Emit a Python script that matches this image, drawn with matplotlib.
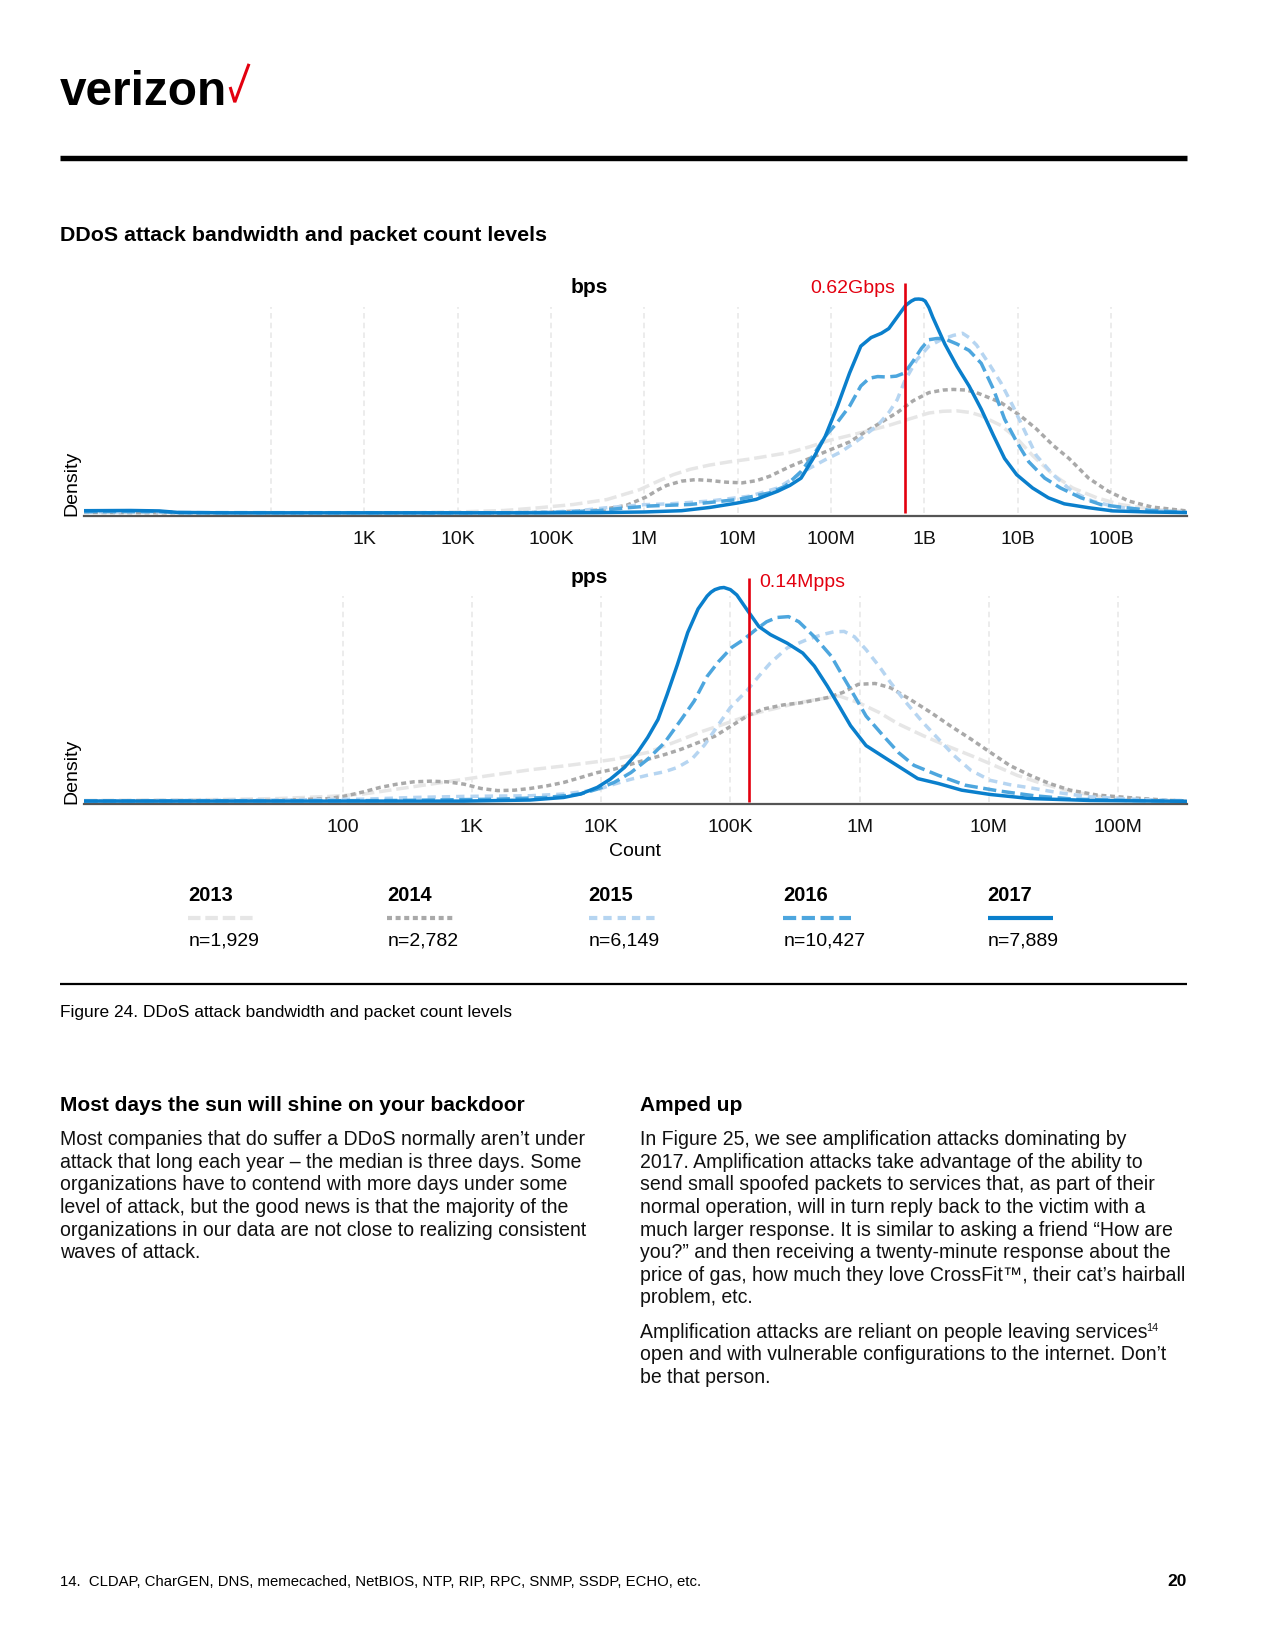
import matplotlib
matplotlib.use('Agg')
import matplotlib.pyplot as plt
from matplotlib.lines import Line2D
from matplotlib.ticker import NullLocator
import numpy as np

plt.rcParams['font.family'] = ['Liberation Sans', 'DejaVu Sans']
plt.rcParams['lines.scale_dashes'] = False

# ---------------- data ----------------
years = ['2013', '2014', '2015', '2016', '2017']
counts = ['n=1,929', 'n=2,782', 'n=6,149', 'n=10,427', 'n=7,889']

# bps densities: x = log10(bits per second)
bps_2013_x = [0.0, 1.0, 3.5, 4.0, 4.5, 4.88, 5.24, 5.6, 5.95, 6.15, 6.31, 6.49, 6.7, 6.91, 7.13, 7.34, 7.56, 7.77,
              7.98, 8.2, 8.41, 8.62, 8.84, 9.05, 9.2, 9.35, 9.5, 9.61, 9.82, 9.99, 10.16, 10.38, 10.59, 10.85,
              11.1, 11.44, 11.81]
bps_2013_y = [0.004, 0.002, 0.003, 0.006, 0.013, 0.026, 0.041, 0.064, 0.11, 0.15, 0.18, 0.205, 0.225, 0.24, 0.253,
              0.268, 0.284, 0.31, 0.34, 0.363, 0.386, 0.41, 0.44, 0.468, 0.476, 0.478, 0.47, 0.455, 0.41, 0.35,
              0.27, 0.18, 0.118, 0.072, 0.041, 0.018, 0.008]
bps_2014_x = [0.0, 1.0, 4.5, 5.0, 5.52, 5.81, 6.02, 6.15, 6.24, 6.4, 6.55, 6.7, 6.88, 7.05, 7.2, 7.34, 7.56, 7.77,
              7.98, 8.2, 8.37, 8.54, 8.71, 8.88, 9.05, 9.2, 9.31, 9.45, 9.56, 9.82, 10.03, 10.2, 10.38, 10.55,
              10.76, 10.97, 11.19, 11.44, 11.81]
bps_2014_y = [0.004, 0.002, 0.002, 0.005, 0.015, 0.037, 0.076, 0.11, 0.13, 0.15, 0.157, 0.153, 0.145, 0.142, 0.152,
              0.172, 0.218, 0.256, 0.294, 0.333, 0.38, 0.425, 0.47, 0.525, 0.563, 0.575, 0.578, 0.575, 0.563,
              0.517, 0.455, 0.394, 0.317, 0.256, 0.164, 0.103, 0.057, 0.029, 0.011]
bps_2015_x = [0.0, 0.8, 1.0, 4.5, 5.0, 5.3, 5.6, 6.0, 6.27, 6.7, 7.13, 7.43, 7.6, 7.77, 7.94, 8.11, 8.32, 8.5, 8.62,
              8.71, 8.79, 8.92, 9.05, 9.18, 9.31, 9.41, 9.48, 9.56, 9.69, 9.82, 9.95, 10.08, 10.2, 10.38, 10.59,
              10.8, 11.06, 11.4, 11.81]
bps_2015_y = [0.006, 0.006, 0.002, 0.002, 0.006, 0.012, 0.026, 0.04, 0.044, 0.057, 0.08, 0.118, 0.164, 0.21, 0.25,
              0.287, 0.35, 0.41, 0.47, 0.53, 0.617, 0.716, 0.78, 0.81, 0.83, 0.84, 0.82, 0.785, 0.70, 0.61, 0.50,
              0.38, 0.27, 0.18, 0.10, 0.057, 0.029, 0.014, 0.005]
bps_2016_x = [0.0, 0.8, 1.0, 4.5, 5.0, 5.5, 5.8, 6.06, 6.49, 7.0, 7.34, 7.51, 7.68, 7.81, 7.94, 8.07, 8.2, 8.32,
              8.41, 8.5, 8.6, 8.7, 8.79, 8.88, 8.97, 9.05, 9.14, 9.22, 9.35, 9.48, 9.61, 9.74, 9.86, 9.99, 10.12,
              10.29, 10.46, 10.68, 10.89, 11.1, 11.4, 11.81]
bps_2016_y = [0.008, 0.008, 0.003, 0.002, 0.004, 0.012, 0.025, 0.034, 0.041, 0.064, 0.095, 0.126, 0.195, 0.27,
              0.36, 0.425, 0.50, 0.594, 0.63, 0.638, 0.636, 0.64, 0.655, 0.71, 0.77, 0.81, 0.816, 0.814, 0.79,
              0.76, 0.70, 0.58, 0.44, 0.333, 0.24, 0.164, 0.118, 0.072, 0.041, 0.029, 0.014, 0.004]
bps_2017_x = [0.0, 0.5, 0.8, 1.0, 1.5, 3.0, 5.0, 5.5, 6.0, 6.4, 6.7, 7.0, 7.2, 7.43, 7.56, 7.68, 7.81, 7.94, 8.07,
              8.2, 8.32, 8.43, 8.54, 8.62, 8.71, 8.8, 8.86, 8.9, 8.94, 8.98, 9.01, 9.05, 9.09, 9.22, 9.35, 9.48,
              9.61, 9.74, 9.86, 9.99, 10.16, 10.33, 10.5, 10.76, 11.02, 11.4, 11.81]
bps_2017_y = [0.012, 0.013, 0.011, 0.004, 0.002, 0.002, 0.002, 0.003, 0.006, 0.012, 0.027, 0.048, 0.065, 0.103,
              0.13, 0.164, 0.256, 0.36, 0.50, 0.655, 0.78, 0.82, 0.84, 0.862, 0.916, 0.97, 0.99, 0.999, 1.0, 0.998,
              0.99, 0.96, 0.916, 0.79, 0.686, 0.594, 0.486, 0.364, 0.256, 0.18, 0.118, 0.072, 0.044, 0.026,
              0.011, 0.006, 0.003]

# pps densities: x = log10(packets per second)
pps_2013_x = [0.0, 1.0, 1.5, 1.9, 2.16, 2.42, 2.68, 2.94, 3.2, 3.45, 3.71, 3.97, 4.1, 4.36, 4.62, 4.79, 4.94, 5.1,
              5.22, 5.38, 5.53, 5.68, 5.84, 5.99, 6.15, 6.3, 6.49, 6.67, 6.86, 7.04, 7.22, 7.41, 7.63, 7.87,
              8.18, 8.53]
pps_2013_y = [0.006, 0.01, 0.015, 0.025, 0.036, 0.059, 0.082, 0.105, 0.128, 0.149, 0.167, 0.187, 0.198, 0.23,
              0.29, 0.33, 0.36, 0.394, 0.417, 0.44, 0.463, 0.478, 0.494, 0.463, 0.417, 0.363, 0.309, 0.262,
              0.216, 0.17, 0.123, 0.085, 0.049, 0.023, 0.009, 0.004]
pps_2014_x = [0.0, 1.5, 1.9, 2.03, 2.16, 2.29, 2.42, 2.55, 2.68, 2.81, 2.94, 3.07, 3.2, 3.33, 3.45, 3.58, 3.71,
              3.84, 3.97, 4.1, 4.23, 4.36, 4.49, 4.62, 4.75, 4.88, 5.01, 5.13, 5.25, 5.41, 5.56, 5.75, 5.87, 5.99,
              6.12, 6.24, 6.39, 6.55, 6.7, 6.86, 7.01, 7.16, 7.32, 7.47, 7.63, 7.84, 8.09, 8.4, 8.53]
pps_2014_y = [0.003, 0.006, 0.015, 0.028, 0.046, 0.067, 0.082, 0.093, 0.096, 0.093, 0.082, 0.062, 0.052, 0.054,
              0.062, 0.074, 0.09, 0.113, 0.136, 0.152, 0.175, 0.198, 0.22, 0.245, 0.276, 0.306, 0.355, 0.40,
              0.432, 0.452, 0.463, 0.486, 0.51, 0.548, 0.552, 0.532, 0.478, 0.417, 0.355, 0.293, 0.231, 0.17,
              0.123, 0.085, 0.054, 0.031, 0.019, 0.006, 0.004]
pps_2015_x = [0.0, 1.5, 2.16, 2.55, 2.94, 3.45, 3.71, 3.97, 4.1, 4.23, 4.36, 4.49, 4.59, 4.7, 4.8, 4.9, 5.0, 5.13,
              5.22, 5.31, 5.44, 5.59, 5.71, 5.8, 5.88, 5.96, 6.05, 6.15, 6.24, 6.36, 6.49, 6.61, 6.73, 6.86, 7.01,
              7.16, 7.35, 7.53, 7.78, 8.09, 8.53]
pps_2015_y = [0.004, 0.008, 0.012, 0.02, 0.025, 0.028, 0.036, 0.056, 0.082, 0.105, 0.124, 0.14, 0.16, 0.198,
              0.265, 0.353, 0.44, 0.52, 0.586, 0.648, 0.718, 0.756, 0.78, 0.793, 0.795, 0.77, 0.71, 0.633, 0.556,
              0.463, 0.37, 0.293, 0.216, 0.147, 0.10, 0.08, 0.062, 0.043, 0.023, 0.012, 0.005]
pps_2016_x = [0.0, 2.0, 2.42, 3.2, 3.58, 3.84, 3.97, 4.1, 4.23, 4.36, 4.49, 4.62, 4.72, 4.82, 4.91, 5.01, 5.1,
              5.19, 5.28, 5.36, 5.45, 5.53, 5.65, 5.78, 5.87, 5.96, 6.05, 6.18, 6.3, 6.42, 6.61, 6.82, 7.07, 7.35,
              7.66, 8.09, 8.53]
pps_2016_y = [0.004, 0.005, 0.006, 0.012, 0.02, 0.036, 0.059, 0.09, 0.136, 0.198, 0.275, 0.384, 0.47, 0.585,
              0.655, 0.72, 0.756, 0.80, 0.84, 0.86, 0.864, 0.84, 0.77, 0.68, 0.586, 0.494, 0.40, 0.31, 0.23, 0.17,
              0.123, 0.077, 0.051, 0.028, 0.012, 0.006, 0.003]
pps_2017_x = [0.0, 2.0, 2.94, 3.45, 3.71, 3.84, 3.97, 4.07, 4.18, 4.28, 4.36, 4.44, 4.51, 4.59, 4.67, 4.75, 4.82,
              4.85, 4.88, 4.92, 4.95, 5.0, 5.05, 5.13, 5.22, 5.31, 5.44, 5.56, 5.65, 5.75, 5.84, 5.93, 6.05, 6.21,
              6.33, 6.45, 6.61, 6.79, 7.01, 7.32, 7.78, 8.53]
pps_2017_y = [0.003, 0.003, 0.003, 0.008, 0.02, 0.036, 0.067, 0.105, 0.16, 0.229, 0.30, 0.384, 0.50, 0.64, 0.79,
              0.90, 0.96, 0.978, 0.99, 0.998, 1.0, 0.99, 0.965, 0.895, 0.818, 0.78, 0.74, 0.694, 0.633, 0.54,
              0.448, 0.355, 0.262, 0.20, 0.154, 0.108, 0.085, 0.054, 0.034, 0.015, 0.006, 0.002]

bps_median = 0.62e9
pps_median = 0.14e6
bps_median_label = '0.62Gbps'
pps_median_label = '0.14Mpps'

bps_ticks = [1e2, 1e3, 1e4, 1e5, 1e6, 1e7, 1e8, 1e9, 1e10, 1e11]
bps_ticklabels = ['', '1K', '10K', '100K', '1M', '10M', '100M', '1B', '10B', '100B']
pps_ticks = [1e2, 1e3, 1e4, 1e5, 1e6, 1e7, 1e8]
pps_ticklabels = ['100', '1K', '10K', '100K', '1M', '10M', '100M']

bps_series = [(bps_2013_x, bps_2013_y), (bps_2014_x, bps_2014_y), (bps_2015_x, bps_2015_y),
              (bps_2016_x, bps_2016_y), (bps_2017_x, bps_2017_y)]
pps_series = [(pps_2013_x, pps_2013_y), (pps_2014_x, pps_2014_y), (pps_2015_x, pps_2015_y),
              (pps_2016_x, pps_2016_y), (pps_2017_x, pps_2017_y)]

# ---------------- style ----------------
colors = ['#e6e6e6', '#a9a9a9', '#b6d5f1', '#4da6de', '#0a7fcc']
dash_styles = [(0, (9, 3.5)), (0, (3.6, 2.6)), (0, (6, 4.3)), (0, (9.5, 4)), '-']
RED = '#e3000f'

W, H = 1275, 1650
S = 1275 / 1211.0   # layout coordinates below are given on a 1211-wide page grid
fig = plt.figure(figsize=(W / 100, H / 100), dpi=100)
renderer = fig.canvas.get_renderer()


def fx(x):
    return x * S / W


def fy(y):
    return 1 - y * S / H


def fit_size(s, target, base=12, **kw):
    t = fig.text(0, 0, s, size=base, **kw)
    w = t.get_window_extent(renderer).width
    t.remove()
    return base * target * S / w


def make_axes(zero_px, spine_px, top_px, unit_px, xmax_log):
    ax = fig.add_axes([fx(80), fy(spine_px), fx(1127) - fx(80), fy(top_px) - fy(spine_px)])
    ax.patch.set_alpha(0)
    ax.set_xscale('log')
    ax.set_xlim(1, 10 ** xmax_log)
    ax.set_ylim(-(spine_px - zero_px) / unit_px, (zero_px - top_px) / unit_px)
    for s in ['top', 'right', 'left']:
        ax.spines[s].set_visible(False)
    ax.spines['bottom'].set_color('#555555')
    ax.spines['bottom'].set_linewidth(1.6)
    ax.spines['bottom'].set_zorder(1.5)
    ax.set_yticks([])
    ax.xaxis.set_minor_locator(NullLocator())
    ax.tick_params(axis='x', length=0, pad=11, labelsize=14, colors='#111111')
    return ax


def draw_panel(ax, series, ticks, ticklabels, grid_top, median, red_top, label, label_dx, ha):
    ax.vlines(ticks, 0, grid_top, colors='#e9e9e9', linestyles=(0, (4, 3)), linewidth=1.2, zorder=1)
    ax.set_xticks(ticks)
    ax.set_xticklabels(ticklabels)
    for i, (xs, ys) in enumerate(series):
        ax.plot(np.power(10.0, xs), ys, color=colors[i], linestyle=dash_styles[i], linewidth=2.5,
                zorder=2 + i, solid_joinstyle='round', solid_capstyle='round')
    ax.vlines([median], 0, red_top, colors=RED, linewidth=1.9, zorder=8)
    ax.annotate(label, xy=(median, red_top), xytext=(label_dx, -3.5), textcoords='offset points',
                ha=ha, va='center', color=RED, size=14, zorder=9)


# top panel (bps)
U1 = 487.5 - 284.0
ax1 = make_axes(zero_px=487.5, spine_px=489.8, top_px=262, unit_px=U1, xmax_log=11.81)
draw_panel(ax1, bps_series, bps_ticks, bps_ticklabels, (487.5 - 292) / U1, bps_median,
           (487.5 - 269) / U1, bps_median_label, -7.0, 'right')

# bottom panel (pps)
U2 = 761.5 - 558.0
ax2 = make_axes(zero_px=761.5, spine_px=763.8, top_px=540, unit_px=U2, xmax_log=8.53)
draw_panel(ax2, pps_series, pps_ticks, pps_ticklabels, (761.5 - 566) / U2, pps_median,
           (761.5 - 549) / U2, pps_median_label, 7.0, 'left')

# panel titles and axis labels
fig.text(fx(560), fy(273.5), 'bps', ha='center', va='center', weight='bold', size=15)
fig.text(fx(560), fy(548.5), 'pps', ha='center', va='center', weight='bold', size=15)
fig.text(fx(68), fy(490), 'Density', rotation=90, ha='center', va='bottom', size=14)
fig.text(fx(68), fy(764), 'Density', rotation=90, ha='center', va='bottom', size=14)
fig.text(fx(603), fy(809), 'Count', ha='center', va='center', size=14)

# legend
leg_x = [179, 368, 559, 744, 938]
leg_len = [62, 63, 64, 64, 62]
for i in range(5):
    fig.text(fx(leg_x[i]), fy(851), years[i], ha='left', va='center', weight='bold', size=14.5)
    fig.add_artist(Line2D([fx(leg_x[i]), fx(leg_x[i] + leg_len[i])], [fy(872), fy(872)],
                          transform=fig.transFigure, color=colors[i], linestyle=dash_styles[i],
                          linewidth=3.0, solid_capstyle='butt', dash_capstyle='butt'))
    fig.text(fx(leg_x[i]), fy(894), counts[i], ha='left', va='center', size=14)

# ---------------- page furniture ----------------
logo_family = ['Liberation Sans Narrow', 'Liberation Sans']
logo_size = fit_size('verizon', 158, family=logo_family, weight='bold')
fig.text(fx(57), fy(99.5), 'verizon', ha='left', va='baseline', size=logo_size,
         family=logo_family, weight='bold', color='black')
fig.add_artist(Line2D([fx(219), fx(223), fx(236)], [fy(84), fy(97), fy(62)], transform=fig.transFigure,
                      color=RED, linewidth=2.2, solid_joinstyle='miter'))

fig.add_artist(Line2D([fx(57), fx(1127)], [fy(150), fy(150)], transform=fig.transFigure,
                      color='black', linewidth=3.9, solid_capstyle='butt'))
fig.add_artist(Line2D([fx(57), fx(1127)], [fy(935), fy(935)], transform=fig.transFigure,
                      color='black', linewidth=1.6, solid_capstyle='butt'))

title = 'DDoS attack bandwidth and packet count levels'
ts = fit_size(title, 459, weight='bold')
fig.text(fx(57), fy(229), title, ha='left', va='baseline', size=ts, weight='bold')

caption = 'Figure 24. DDoS attack bandwidth and packet count levels'
cs = fit_size(caption, 430)
fig.text(fx(57), fy(965.5), caption, ha='left', va='baseline', size=cs)

h1 = 'Most days the sun will shine on your backdoor'
hs = fit_size(h1, 439, weight='bold')
fig.text(fx(57), fy(1055), h1, ha='left', va='baseline', size=hs, weight='bold')
fig.text(fx(608), fy(1055), 'Amped up', ha='left', va='baseline', size=hs, weight='bold')

left_lines = [
    'Most companies that do suffer a DDoS normally aren\u2019t under',
    'attack that long each year \u2013 the median is three days. Some',
    'organizations have to contend with more days under some',
    'level of attack, but the good news is that the majority of the',
    'organizations in our data are not close to realizing consistent',
    'waves of attack.',
]
right_lines = [
    'In Figure 25, we see amplification attacks dominating by',
    '2017. Amplification attacks take advantage of the ability to',
    'send small spoofed packets to services that, as part of their',
    'normal operation, will in turn reply back to the victim with a',
    'much larger response. It is similar to asking a friend \u201cHow are',
    'you?\u201d and then receiving a twenty-minute response about the',
    'price of gas, how much they love CrossFit\u2122, their cat\u2019s hairball',
    'problem, etc.',
]
right_lines2 = [
    'Amplification attacks are reliant on people leaving services',
    'open and with vulnerable configurations to the internet. Don\u2019t',
    'be that person.',
]
bs = fit_size(left_lines[4], 501)
LS = 21.5
for i, s in enumerate(left_lines):
    fig.text(fx(57), fy(1087.5 + i * LS), s, ha='left', va='baseline', size=bs, color='#111111')
for i, s in enumerate(right_lines):
    fig.text(fx(608), fy(1087.5 + i * LS), s, ha='left', va='baseline', size=bs, color='#111111')
for i, s in enumerate(right_lines2):
    t = fig.text(fx(608), fy(1270.5 + i * LS), s, ha='left', va='baseline', size=bs, color='#111111')
    if i == 0:
        w = t.get_window_extent(renderer).width / S
        fig.text(fx(608 + w - 1.5), fy(1264), '14', ha='left', va='baseline', size=bs * 0.55,
                 color='#111111')

foot = '14.  CLDAP, CharGEN, DNS, memecached, NetBIOS, NTP, RIP, RPC, SNMP, SSDP, ECHO, etc.'
fs = fit_size(foot, 607)
fig.text(fx(57), fy(1506.5), foot, ha='left', va='baseline', size=fs)
fig.text(fx(1127), fy(1506.5), '20', ha='right', va='baseline', size=12.5, weight='bold')

fig.savefig('out.png', dpi=100)
